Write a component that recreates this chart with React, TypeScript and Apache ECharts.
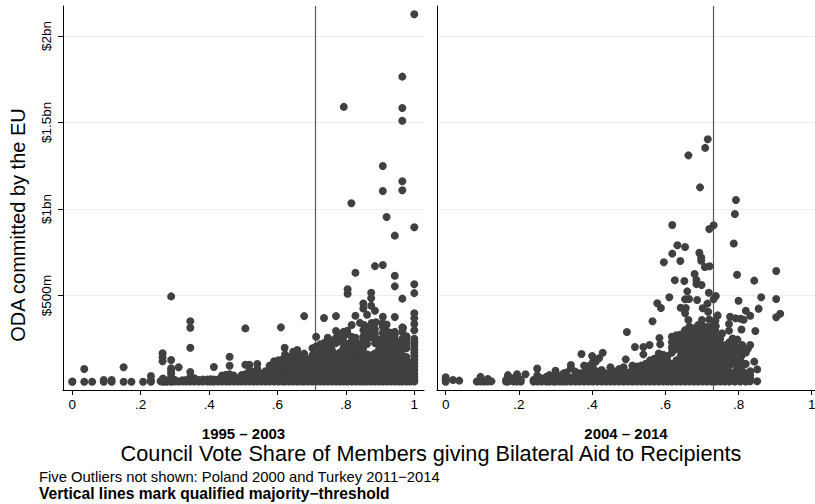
import React, { useEffect, useRef } from "react";
import * as echarts from "echarts";

const FONT = '"Liberation Sans", Arial, sans-serif';
const periods = ["1995 – 2003", "2004 – 2014"];
const thresholds = [0.714, 0.73];
const xTicks = [0, 0.2, 0.4, 0.6, 0.8, 1];
const yTicks = [500, 1000, 1500, 2000];
const yLabels = ["$500m", "$1bn", "$1.5bn", "$2bn"];

// x = vote share, y = ODA in $m
const leftHigh: number[][] = [
  [1, 2125], [0.965, 1765], [0.794, 1590], [0.965, 1584], [0.965, 1510], [0.908, 1248], [0.965, 1160], [0.965, 1108],
  [0.908, 1104], [0.816, 1033], [0.919, 954], [1, 894], [0.943, 846], [0.908, 676], [0.885, 670], [0.828, 632],
  [0.943, 614], [1, 565], [0.943, 553], [0.805, 536], [0.805, 510], [1, 514], [0.874, 516], [0.874, 484], [0.965, 482],
  [0.289, 495], [0.851, 454], [0.851, 425], [0.874, 441], [0.885, 412], [0.862, 389], [0.828, 383], [0.908, 377],
  [0.943, 376], [1, 397], [1, 368], [1, 335], [1, 299], [0.771, 381], [0.736, 370], [0.678, 381], [0.61, 316],
  [0.506, 310], [0.345, 351], [0.345, 314], [0.345, 198], [0.621, 198], [0.46, 146], [0.46, 94], [0.414, 87],
  [0.264, 166], [0.264, 143], [0.264, 120], [0.289, 127], [0.311, 85], [0.035, 75], [0.15, 85], [0.23, 35],
  [0.817, 330], [0.841, 342], [0.853, 330], [0.875, 341], [0.888, 345], [0.907, 340], [0.919, 332], [0.967, 312],
];

const leftColumns: [number, number[]][] = [
  [0, [2, 3]], [0.035, [2]], [0.058, [2]], [0.092, [2, 12]], [0.115, [2, 12]], [0.15, [2]], [0.173, [2]], [0.207, [2]],
  [0.23, [2, 10]], [0.258, [5]], [0.265, [2, 10, 20]], [0.275, [2, 8]], [0.289, [2, 12, 30, 50, 65, 80]],
  [0.3, [3, 12]], [0.311, [3]], [0.322, [3, 10]], [0.333, [3, 12]], [0.345, [3, 14, 30, 58]], [0.357, [3, 12, 22]],
  [0.37, [3, 12]], [0.382, [3, 14]], [0.395, [3, 15]], [0.405, [3, 16]], [0.414, [3, 14]], [0.426, [3, 14]],
  [0.438, [3, 15, 38]], [0.45, [3, 18, 42]], [0.46, [3, 20, 45]], [0.472, [3, 20, 38]], [0.484, [3, 18]],
  [0.495, [3, 20, 40]], [0.506, [3, 22, 45, 100]], [0.518, [3, 18, 40, 70, 100]], [0.53, [3, 25, 55]],
  [0.541, [3, 20, 50, 75, 104]], [0.553, [3, 15, 48]], [0.565, [3, 28, 62]], [0.577, [3, 22, 50, 80, 95]],
  [0.59, [3, 30, 60, 90, 120]], [0.602, [3, 25, 55, 85, 125]], [0.614, [3, 35, 70, 105, 130]],
  [0.622, [3, 30, 60, 95, 125, 160]], [0.634, [3, 28, 62, 90, 120, 145]], [0.646, [3, 35, 70, 105, 140, 175]],
  [0.658, [3, 30, 65, 95, 130, 160, 185]], [0.67, [3, 25, 60, 100, 135]], [0.678, [3, 35, 70, 105, 140, 164]],
  [0.69, [3, 30, 65, 100, 130]], [0.702, [3, 25, 60, 90, 125, 155, 195]], [0.713, [3, 35, 70, 105, 140, 175, 205, 262]],
  [0.725, [3, 30, 60, 95, 130, 165, 195, 218]], [0.736, [3, 25, 60, 90, 120, 155, 190, 225]],
  [0.747, [3, 35, 70, 105, 140, 175, 205, 235, 256]], [0.759, [3, 30, 60, 90, 125, 155, 185, 215, 240]],
  [0.771, [3, 25, 55, 90, 125, 160, 225, 255, 295]], [0.782, [3, 35, 70, 100, 135, 170, 235, 265]],
  [0.793, [3, 30, 60, 95, 130, 160, 195, 230, 260, 290]], [0.804, [3, 25, 60, 90, 120, 155, 185, 220, 280, 296]],
  [0.817, [3, 35, 70, 105, 135, 170, 200, 235, 262]], [0.829, [3, 30, 60, 95, 125, 160, 190, 255, 235]],
  [0.841, [3, 25, 55, 90, 120, 150, 185, 215]], [0.851, [3, 35, 70, 100, 135, 165, 200, 235, 265, 300]],
  [0.862, [3, 30, 60, 95, 125, 160, 220, 250, 285, 315]], [0.874, [3, 25, 60, 90, 120, 155, 260, 295, 325]],
  [0.885, [3, 35, 65, 100, 130, 165, 225, 258, 280, 305]], [0.897, [3, 30, 60, 95, 125, 155, 190, 215, 245]],
  [0.908, [3, 25, 55, 90, 120, 150, 180, 210, 250, 285, 320]], [0.919, [3, 35, 70, 100, 130, 160, 195, 225, 260, 295]],
  [0.931, [3, 30, 65, 95, 125, 155, 190, 220, 250, 285]], [0.943, [3, 25, 60, 90, 120, 150, 185, 215, 245, 275, 290]],
  [0.955, [3, 35, 70, 105, 135, 170, 195, 230]], [0.965, [3, 30, 60, 95, 125, 155, 190, 215, 250, 290, 316]],
  [0.977, [3, 25, 55, 90, 120, 145, 195, 220, 245, 265]], [0.988, [3, 40, 75, 110]],
  [1, [3, 15, 30, 50, 70, 90, 110, 130, 150, 170, 190, 210, 230, 250]],
];

const rightHigh: number[][] = [
  [0.716, 1403], [0.709, 1353], [0.663, 1310], [0.695, 1125], [0.793, 1052], [0.79, 971], [0.619, 907], [0.732, 906],
  [0.72, 884], [0.787, 801], [0.633, 790], [0.654, 780], [0.619, 742], [0.693, 747], [0.698, 720], [0.698, 701],
  [0.641, 699], [0.596, 692], [0.708, 665], [0.721, 669], [0.903, 642], [0.796, 620], [0.68, 624], [0.626, 588],
  [0.652, 584], [0.843, 586], [0.685, 590], [0.685, 566], [0.699, 561], [0.66, 524], [0.719, 516], [0.738, 497],
  [0.732, 478], [0.611, 490], [0.654, 478], [0.665, 480], [0.687, 474], [0.8, 470], [0.862, 490], [0.903, 480],
  [0.578, 455], [0.588, 428], [0.715, 453], [0.702, 426], [0.642, 429], [0.656, 428], [0.855, 424], [0.82, 412],
  [0.832, 383], [0.914, 395], [0.903, 374], [0.654, 397], [0.743, 385], [0.717, 406], [0.777, 377], [0.792, 368],
  [0.806, 366], [0.814, 360], [0.565, 351], [0.663, 358], [0.7, 358], [0.72, 362], [0.737, 355], [0.774, 335],
  [0.495, 289], [0.808, 304], [0.846, 295], [0.774, 297], [0.755, 281], [0.584, 254], [0.517, 202], [0.54, 202],
  [0.557, 214], [0.54, 160], [0.586, 218], [0.371, 162], [0.429, 169], [0.4, 150], [0.419, 137], [0.41, 118],
  [0.492, 131], [0.832, 214], [0.81, 214], [0.825, 190], [0.784, 252], [0.797, 245], [0.765, 214], [0.808, 150],
  [0.843, 118], [0.851, 73], [0.832, 62], [0.832, 18], [0.851, 5], [0.8, 190], [0.785, 205], [0.78, 150],
  [0.79, 135], [0.8, 120], [0.815, 100], [0.82, 30], [0.81, 60], [0.795, 70], [0.775, 95], [0.77, 125],
];

const rightColumns: [number, number[]][] = [
  [0, [2, 15, 28]], [0.02, [12]], [0.037, [8]], [0.085, [3]], [0.095, [3, 15, 30]], [0.105, [3]], [0.115, [3, 18]],
  [0.125, [4]], [0.165, [3, 12]], [0.17, [3, 15, 40]], [0.185, [3, 22]], [0.195, [3, 25, 45]], [0.205, [3, 15]],
  [0.218, [45]], [0.24, [3, 12]], [0.25, [3, 20, 38, 78]], [0.262, [3, 22]], [0.275, [3, 15, 30]], [0.283, [3, 40]],
  [0.295, [3, 25]], [0.3, [3, 20, 65]], [0.312, [3, 18, 35]], [0.322, [3, 25, 50]], [0.33, [3, 15, 55]],
  [0.342, [3, 25, 80, 98]], [0.354, [3, 22, 60]], [0.366, [3, 30, 50]], [0.378, [3, 20, 55, 95]], [0.39, [3, 30, 65, 92]],
  [0.402, [3, 25, 55, 85, 115]], [0.414, [3, 32, 60]], [0.426, [3, 20, 45, 70]], [0.438, [3, 28, 50]], [0.45, [3, 22, 52, 85]],
  [0.462, [3, 30, 60]], [0.474, [3, 22, 48, 75]], [0.486, [3, 30, 60, 85]], [0.498, [3, 25, 55]], [0.51, [3, 35, 65, 95]],
  [0.522, [3, 28, 58, 90]], [0.534, [3, 30, 60, 95]], [0.546, [3, 35, 70, 105]], [0.558, [3, 30, 65, 100, 125]],
  [0.57, [3, 25, 60, 95, 135]], [0.582, [3, 35, 70, 105, 140, 165]], [0.594, [3, 30, 60, 95, 125, 158]],
  [0.606, [3, 25, 60, 90, 120, 150]], [0.618, [3, 35, 70, 105, 170, 200, 230, 262]], [0.63, [3, 30, 60, 95, 125, 190, 228, 270]],
  [0.642, [3, 25, 55, 90, 120, 150, 180, 215, 250, 275]], [0.654, [3, 35, 70, 100, 135, 165, 195, 230, 260, 300]],
  [0.666, [3, 30, 65, 95, 130, 160, 190, 225, 255, 285, 320]], [0.678, [3, 25, 60, 90, 125, 155, 185, 220, 250, 280, 310]],
  [0.69, [3, 35, 70, 105, 135, 170, 200, 235, 265, 300, 330]], [0.702, [3, 30, 60, 95, 130, 160, 195, 225, 255, 290, 322]],
  [0.714, [3, 25, 55, 90, 125, 155, 185, 220, 250, 285, 318]], [0.726, [3, 35, 70, 100, 135, 165, 200, 230, 265, 295, 320]],
  [0.738, [3, 30, 60, 95, 125, 160, 195, 225, 255, 290, 322]], [0.75, [3, 25, 55, 90, 120, 155, 190, 220, 250]],
  [0.762, [3, 35, 70, 105, 130, 165, 195]], [0.775, [3, 30, 60, 110, 180, 230]], [0.79, [3, 25, 55, 105, 170, 210]],
  [0.805, [3, 45, 85, 125, 185]], [0.82, [3, 50, 105, 170]], [0.832, [5, 40]],
];

const leftPoints = [...leftHigh, ...leftColumns.flatMap(([x, ys]) => ys.map((y) => [x, y]))];
const rightPoints = [...rightHigh, ...rightColumns.flatMap(([x, ys]) => ys.map((y) => [x, y]))];

const xLabel = (v: number) => (v === 0 ? "0" : v === 1 ? "1" : String(v).replace(/^0/, ""));

function xAxis(gridIndex: number, min: number, max: number, name: string) {
  return {
    type: "value", gridIndex, min, max, name, nameLocation: "middle", nameGap: 36,
    nameTextStyle: { fontFamily: FONT, fontSize: 15, fontWeight: "bold", color: "#000" },
    splitLine: { show: false },
    axisLine: { onZero: false, lineStyle: { color: "#000", width: 1 } },
    axisTick: { length: 5, customValues: xTicks, lineStyle: { color: "#000" } },
    axisLabel: { customValues: xTicks, formatter: xLabel, fontFamily: FONT, fontSize: 13.5, color: "#000", margin: 7 },
  };
}

function yAxis(gridIndex: number, main: boolean) {
  return {
    type: "value", gridIndex, min: -46, max: 2173,
    splitLine: { show: true, lineStyle: { color: "#eeeeee", width: 1 } },
    axisLine: { show: true, onZero: false, lineStyle: { color: "#000", width: 1 } },
    axisTick: { show: main, length: 5, customValues: yTicks, lineStyle: { color: "#000" } },
    axisLabel: {
      show: main, customValues: yTicks, rotate: 90, fontFamily: FONT, fontSize: 13.5, color: "#000", margin: 10,
      formatter: (v: number) => yLabels[yTicks.indexOf(v)] ?? "",
    },
  };
}

function scatter(i: number, data: number[][]) {
  return {
    type: "scatter", xAxisIndex: i, yAxisIndex: i, data, symbol: "circle", symbolSize: 8, z: 3,
    itemStyle: { color: "#404040", opacity: 1 }, silent: true,
    markLine: {
      silent: true, symbol: "none", label: { show: false }, animation: false, z: 1,
      lineStyle: { color: "#595959", width: 1.2, type: "solid" },
      data: [{ xAxis: thresholds[i] }],
    },
  };
}

export default function App() {
  const ref = useRef<HTMLDivElement>(null);
  useEffect(() => {
    const chart = echarts.init(ref.current!, undefined, { renderer: "svg" });
    chart.setOption({
      animation: false,
      backgroundColor: "#fff",
      grid: [
        { left: 63, top: 6, width: 361, height: 384, outerBoundsMode: "none" },
        { left: 437, top: 6, width: 378, height: 384, outerBoundsMode: "none" },
      ],
      xAxis: [xAxis(0, -0.0272, 1.0284, periods[0]), xAxis(1, -0.0238, 1.009, periods[1])],
      yAxis: [yAxis(0, true), yAxis(1, false)],
      series: [scatter(0, leftPoints), scatter(1, rightPoints)],
      graphic: [
        { type: "text", x: 18, y: 225, rotation: Math.PI / 2, style: { text: "ODA committed by the EU", fontFamily: FONT, fontSize: 20, fill: "#000", align: "center", verticalAlign: "middle" } },
        { type: "text", x: 431, y: 453, style: { text: "Council Vote Share of Members giving Bilateral Aid to Recipients", fontFamily: FONT, fontSize: 21.7, fill: "#000", align: "center", verticalAlign: "middle" } },
        { type: "text", x: 39, y: 477, style: { text: "Five Outliers not shown: Poland 2000 and Turkey 2011−2014", fontFamily: FONT, fontSize: 14.8, fill: "#000", align: "left", verticalAlign: "middle" } },
        { type: "text", x: 39, y: 493, style: { text: "Vertical lines mark qualified majority−threshold", fontFamily: FONT, fontSize: 15.6, fontWeight: "bold", fill: "#000", align: "left", verticalAlign: "middle" } },
      ],
    });
    return () => chart.dispose();
  }, []);
  return <div ref={ref} style={{ position: "fixed", left: 0, top: 0, width: 815, height: 504 }} />;
}
